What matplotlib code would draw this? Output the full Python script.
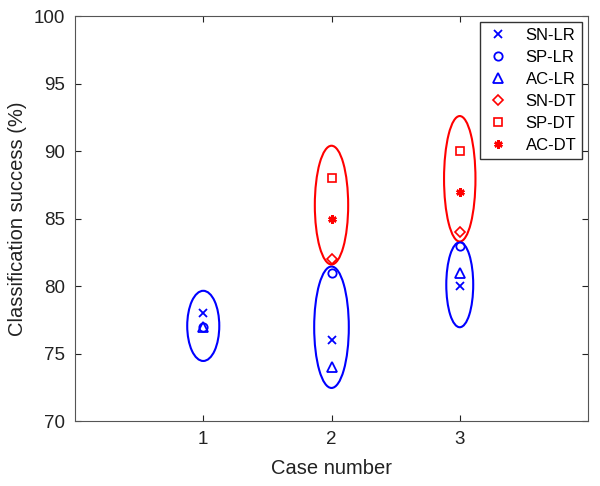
import matplotlib
matplotlib.use('Agg')
import matplotlib.pyplot as plt
from matplotlib.patches import Ellipse

plt.rcParams['font.family'] = ['Liberation Sans', 'DejaVu Sans']

cases = [1, 2, 3]
sn_lr = [78, 76, 80]
sp_lr = [77, 81, 83]
ac_lr = [77, 74, 81]
sn_dt = [82, 84]
sp_dt = [88, 90]
ac_dt = [85, 87]
dt_cases = [2, 3]

# ellipses: (case, centre, width, height)
lr_ell = [(1, 77.05, 0.25, 5.2), (2, 76.95, 0.27, 9.0), (3, 80.1, 0.21, 6.3)]
dt_ell = [(2, 86.0, 0.26, 8.8), (3, 87.95, 0.245, 9.3)]

fig = plt.figure(figsize=(6, 4.86), dpi=100)
ax = fig.add_axes([0.125, 0.1337, 0.855, 0.833])

blue = '#0000ff'
red = '#ff0000'
ms = 6
ax.plot(cases, sn_lr, 'x', color=blue, ms=ms, mew=1.3, label='SN-LR')
ax.plot(cases, sp_lr, 'o', color=blue, mfc='none', ms=ms, mew=1.3, label='SP-LR')
ax.plot(cases, ac_lr, '^', color=blue, mfc='none', ms=ms + 1, mew=1.3, label='AC-LR')
ax.plot(dt_cases, sn_dt, 'D', color=red, mfc='none', ms=ms - 1, mew=1.2, label='SN-DT')
ax.plot(dt_cases, sp_dt, 's', color=red, mfc='none', ms=ms - 0.5, mew=1.2, label='SP-DT')
ax.plot(dt_cases, ac_dt, marker=(6, 2, 0), ls='none', color=red, ms=ms, mew=1.8, label='AC-DT')

for c, yc, w, h in lr_ell:
    ax.add_patch(Ellipse((c, yc), w, h, fill=False, ec=blue, lw=1.5))
for c, yc, w, h in dt_ell:
    ax.add_patch(Ellipse((c, yc), w, h, fill=False, ec=red, lw=1.5))

ax.set_xlim(0, 4)
ax.set_ylim(70, 100)
ax.set_xticks([1, 2, 3])
ax.set_yticks([70, 75, 80, 85, 90, 95, 100])
ax.tick_params(direction='in', length=4, labelsize=13.5, colors='#222222',
               top=True, right=True, pad=7)
for s in ax.spines.values():
    s.set_color('#555555')
ax.set_xlabel('Case number', fontsize=14.5, color='#222222', labelpad=8)
ax.set_ylabel('Classification success (%)', fontsize=14.5, color='#222222', labelpad=5)

leg = ax.legend(loc='upper right', fontsize=12, fancybox=False, framealpha=1,
                edgecolor='#333333', handletextpad=0.9, borderpad=0.35,
                labelspacing=0.42, handlelength=1.5, borderaxespad=0.35)
leg.get_frame().set_linewidth(1.0)

fig.savefig('out.png', dpi=100)
